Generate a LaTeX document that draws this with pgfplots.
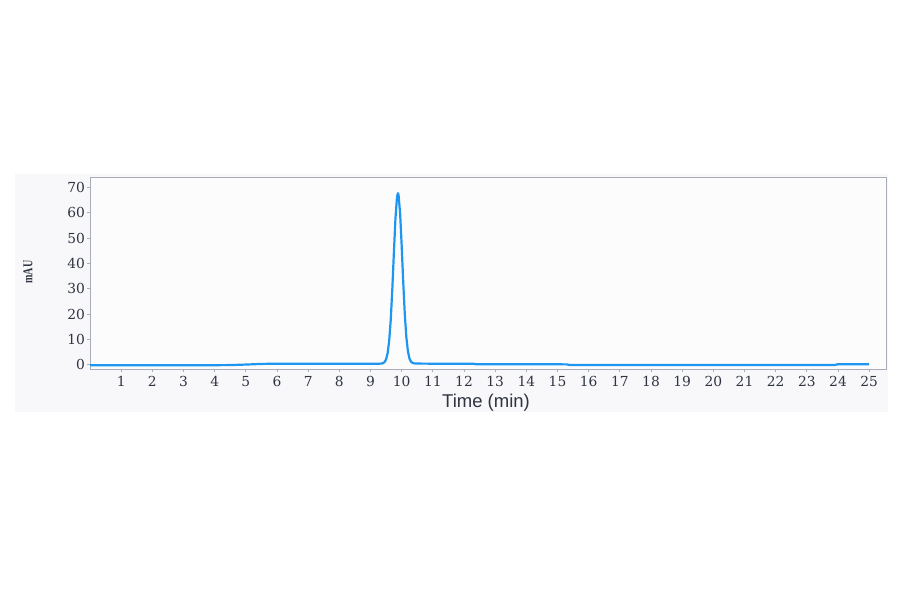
\documentclass[border=0pt]{standalone}
\usepackage{fontspec}
\setmainfont{DejaVu Serif}
\newfontfamily\arial{Liberation Sans}
\newfontfamily\tnr{Liberation Serif}
\usepackage{graphicx}
\usepackage{pgfplots}
\pgfplotsset{compat=1.18}
\definecolor{trace}{HTML}{1E96F0}
\definecolor{framec}{HTML}{A8ACB8}
\definecolor{tickc}{HTML}{303442}
\definecolor{bgc}{HTML}{F8F8FA}
\definecolor{plotbg}{HTML}{FCFCFC}
\begin{document}
\begin{tikzpicture}[x=1pt,y=1pt]
\path[use as bounding box] (0,0) rectangle (900,594);
\fill[bgc] (15,182) rectangle (888,420);
\begin{axis}[
  at={(90pt,225pt)}, anchor=south west,
  scale only axis, width=796pt, height=192pt,
  xmin=0, xmax=25.54, ymin=-1.7, ymax=74.1,
  xtick={1,2,...,25}, ytick={0,10,...,70},
  axis background/.style={fill=plotbg},
  axis line style={framec, line width=0.8pt},
  tick align=outside, major tick length=3pt,
  tick style={framec, line width=0.8pt},
  xtick pos=bottom, ytick pos=left,
  /pgf/number format/assume math mode=true,
  ticklabel style={font=\fontsize{13.8}{15}\selectfont, text=tickc},
  yticklabel style={xshift=1.5pt},
  xticklabel style={yshift=-0.5pt},
  clip=true,
]
\addplot[trace, line width=2.2pt, line join=round] coordinates {
(0,-0.2) (1,-0.2) (2,-0.2) (3,-0.2) (4,-0.2) (4.5,-0.15) (5,0.05) (5.5,0.3) (6,0.4) (7,0.4) (8,0.4) (9,0.4) (9.3,0.41)
(9.35,0.45) (9.40,0.59) (9.45,1.00) (9.50,2.09) (9.55,4.59) (9.60,9.51) (9.65,17.86) (9.70,29.85)
(9.75,44.13) (9.80,57.56) (9.85,66.17) (9.88,67.7) (9.90,67.02) (9.95,59.79) (10.00,47.01) (10.05,32.60)
(10.10,19.98) (10.15,10.88) (10.20,5.34) (10.25,2.45) (10.30,1.15) (10.35,0.70) (10.40,0.52) (10.5,0.45)
(10.7,0.42) (11,0.4) (12,0.4) (12.3,0.38) (12.4,0.15) (13,0.15) (14,0.15) (15,0.15) (15.3,0.12) (15.4,-0.15)
(16,-0.15) (17,-0.15) (18,-0.15) (19,-0.15) (20,-0.15) (21,-0.15) (22,-0.15) (23,-0.15) (23.9,-0.12) (24,0.2) (25,0.2)
};
\end{axis}
\node[anchor=base, font=\arial\fontsize{18.5}{22}\selectfont, text=tickc] at (486,186) {Time (min)};
\node[rotate=90, font=\tnr\bfseries\fontsize{13.5}{15}\selectfont, text=tickc] at (28,322) {\scalebox{0.75}[1]{mAU}};
\end{tikzpicture}
\end{document}
